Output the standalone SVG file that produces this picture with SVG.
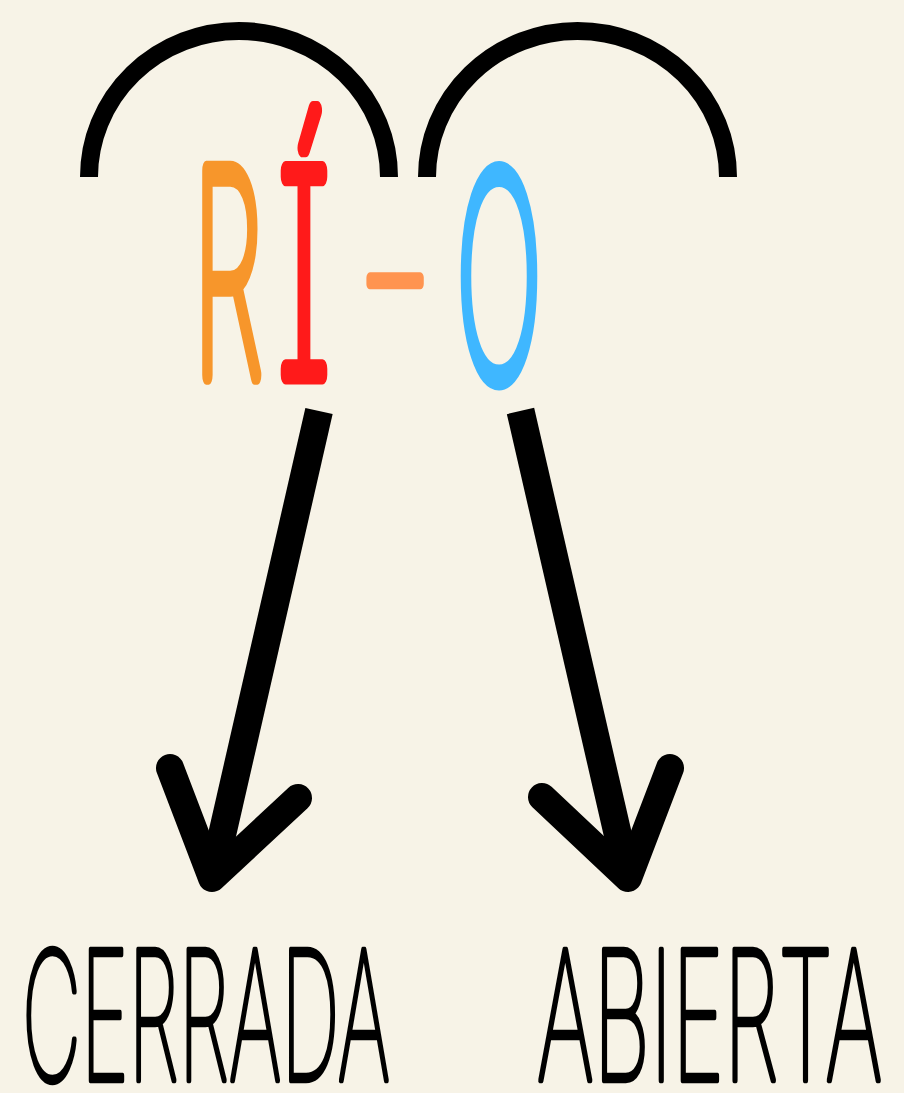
<svg xmlns="http://www.w3.org/2000/svg" width="904" height="1093" viewBox="0 0 904 1093">
  <defs>
    <style>
      .arc { fill: none; stroke: #000; stroke-width: 18; stroke-linecap: butt; }
      .shaft { fill: none; stroke: #000; stroke-width: 28; stroke-linecap: butt; }
      .head { fill: none; stroke: #000; stroke-width: 28; stroke-linecap: round; stroke-linejoin: round; }
      .big { font-family: Inter, "Liberation Sans", sans-serif; font-weight: 100; text-anchor: middle; stroke-linejoin: round; stroke-linecap: round; stroke-width: 15; vector-effect: non-scaling-stroke; font-feature-settings: "cv08" 1; }
      .lbl { font-family: Inter, "Liberation Sans", sans-serif; font-weight: 100; font-size: 82px; fill: #000; stroke: #000; stroke-width: 5; stroke-linejoin: round; vector-effect: non-scaling-stroke; }
    </style>
  </defs>
  <rect width="904" height="1093" fill="#F7F3E7"/>
  <g id="arcs">
    <path class="arc" d="M89,177 A150,146 0 0 1 389,177"/>
    <path class="arc" d="M427,177 A150.5,146 0 0 1 728,177"/>
  </g>
  <g id="word">
    <text class="big" transform="translate(228,375) scale(1,2.5)" font-size="112.4" fill="#F7962B" stroke="#F7962B">R</text>
    <text class="big" transform="translate(304,375) scale(1,1.961)" font-size="143.3" fill="#FF1A1A" stroke="#FF1A1A">Í</text>
    <text class="big" transform="translate(395,368.5) scale(1,1.515)" font-size="185.5" fill="#FF9450" stroke="#FF9450" style="stroke-width:9">-</text>
    <text class="big" transform="translate(499,378) scale(1,2.469)" font-size="113.8" fill="#3FB7FF" stroke="#3FB7FF">O</text>
  </g>
  <g id="connectors">
    <line class="shaft" x1="319" y1="411" x2="214" y2="870"/>
    <polyline class="head" points="170,768 212,878 298,798"/>
    <line class="shaft" x1="520.5" y1="411" x2="626" y2="870"/>
    <polyline class="head" points="542,797 628,878 670,768"/>
  </g>
  <g id="cerrada">
    <text class="lbl" transform="translate(22,1080) scale(1,2.174)" x="0" y="0" textLength="368" lengthAdjust="spacingAndGlyphs">CERRADA</text>
  </g>
  <g id="abierta">
    <text class="lbl" transform="translate(537,1080) scale(1,2.174)" x="0" y="0" textLength="345" lengthAdjust="spacingAndGlyphs">ABIERTA</text>
  </g>
</svg>
